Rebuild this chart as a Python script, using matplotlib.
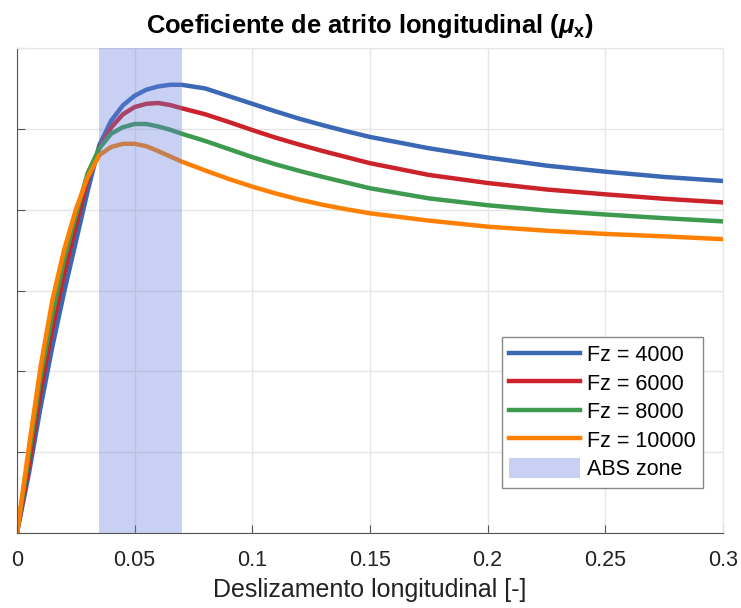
import numpy as np
import matplotlib.pyplot as plt

# longitudinal slip [-]
slip = [0, 0.005, 0.01, 0.015, 0.02, 0.025, 0.03, 0.035, 0.04, 0.045, 0.05,
        0.055, 0.06, 0.065, 0.07, 0.08, 0.09, 0.1, 0.11, 0.12, 0.13, 0.14,
        0.15, 0.175, 0.2, 0.225, 0.25, 0.275, 0.3]

mu_4000 = [0, 0.145, 0.31, 0.46, 0.595, 0.72, 0.845, 0.96, 1.02, 1.058, 1.082,
           1.097, 1.105, 1.109, 1.109, 1.100, 1.081, 1.062, 1.043, 1.025,
           1.009, 0.994, 0.980, 0.952, 0.929, 0.909, 0.894, 0.881, 0.871]
mu_6000 = [0, 0.165, 0.35, 0.505, 0.64, 0.76, 0.875, 0.952, 1.003, 1.036, 1.054,
           1.062, 1.064, 1.059, 1.051, 1.036, 1.017, 0.997, 0.978, 0.961,
           0.945, 0.930, 0.915, 0.886, 0.866, 0.850, 0.838, 0.827, 0.818]
mu_8000 = [0, 0.19, 0.385, 0.54, 0.675, 0.785, 0.89, 0.952, 0.988, 1.004, 1.012,
           1.012, 1.006, 0.998, 0.988, 0.970, 0.950, 0.930, 0.912, 0.896,
           0.881, 0.867, 0.853, 0.828, 0.811, 0.798, 0.788, 0.779, 0.771]
mu_10000 = [0, 0.21, 0.41, 0.575, 0.70, 0.80, 0.88, 0.935, 0.955, 0.963, 0.963,
            0.957, 0.945, 0.932, 0.919, 0.897, 0.876, 0.857, 0.840, 0.825,
            0.812, 0.801, 0.791, 0.773, 0.758, 0.748, 0.740, 0.734, 0.727]

labels = ['Fz = 4000', 'Fz = 6000', 'Fz = 8000', 'Fz = 10000']
colors = ['#3a68b5', '#cc2229', '#3d9a4e', '#ff8000']

abs_zone = (0.035, 0.07)
xticks = [0, 0.05, 0.1, 0.15, 0.2, 0.25, 0.3]
xticklabels = ['0', '0.05', '0.1', '0.15', '0.2', '0.25', '0.3']

def main():
	plt.rcParams['font.family'] = ['Liberation Sans', 'DejaVu Sans']
	plt.rcParams['mathtext.fontset'] = 'custom'
	plt.rcParams['mathtext.it'] = 'Liberation Sans:italic:bold'
	plt.rcParams['mathtext.bf'] = 'Liberation Sans:bold'

	fig = plt.figure(figsize=(7.41, 6.08), dpi=100)
	ax = fig.add_axes([0.0229, 0.1234, 0.9528, 0.7976])

	for mu, lab, c in zip([mu_4000, mu_6000, mu_8000, mu_10000], labels, colors):
		ax.plot(slip, mu, color=c, lw=3.2, label=lab, solid_joinstyle='round')

	ax.axvspan(abs_zone[0], abs_zone[1], color='#697fde', alpha=0.36,
	           lw=0, label='ABS zone', zorder=3)

	ax.set_xlim(0, 0.3)
	ax.set_ylim(0, 1.2)
	ax.set_xticks(xticks)
	ax.set_xticklabels(xticklabels)
	ax.set_yticks(np.arange(0, 1.21, 0.2))
	ax.set_yticklabels([])
	ax.tick_params(direction='in', length=6, color='#555555', labelsize=15.5,
	               labelcolor='#222222', pad=12)
	ax.grid(color='#e6e6e6', lw=1)
	ax.set_axisbelow(True)
	for s in ['left', 'bottom']:
		ax.spines[s].set_color('#555555')
	for s in ['top', 'right']:
		ax.spines[s].set_color('#e6e6e6')

	ax.set_xlabel('Deslizamento longitudinal [-]', fontsize=18, color='#222222',
	              labelpad=5)
	ax.set_title(r'Coeficiente de atrito longitudinal ($\mathit{\mu}_{\mathbf{x}}$)',
	             fontsize=18.4, fontweight='bold', pad=11)

	leg = ax.legend(loc='lower right', bbox_to_anchor=(0.972, 0.093),
	                borderaxespad=0, fontsize=15.5, handlelength=3.3,
	                handleheight=1.0, fancybox=False, edgecolor='#888888',
	                framealpha=1, borderpad=0.35, labelspacing=0.3,
	                handletextpad=0.3)
	leg.get_frame().set_linewidth(1)

	fig.savefig('out.png', dpi=100)


if __name__ == '__main__':
	main()
